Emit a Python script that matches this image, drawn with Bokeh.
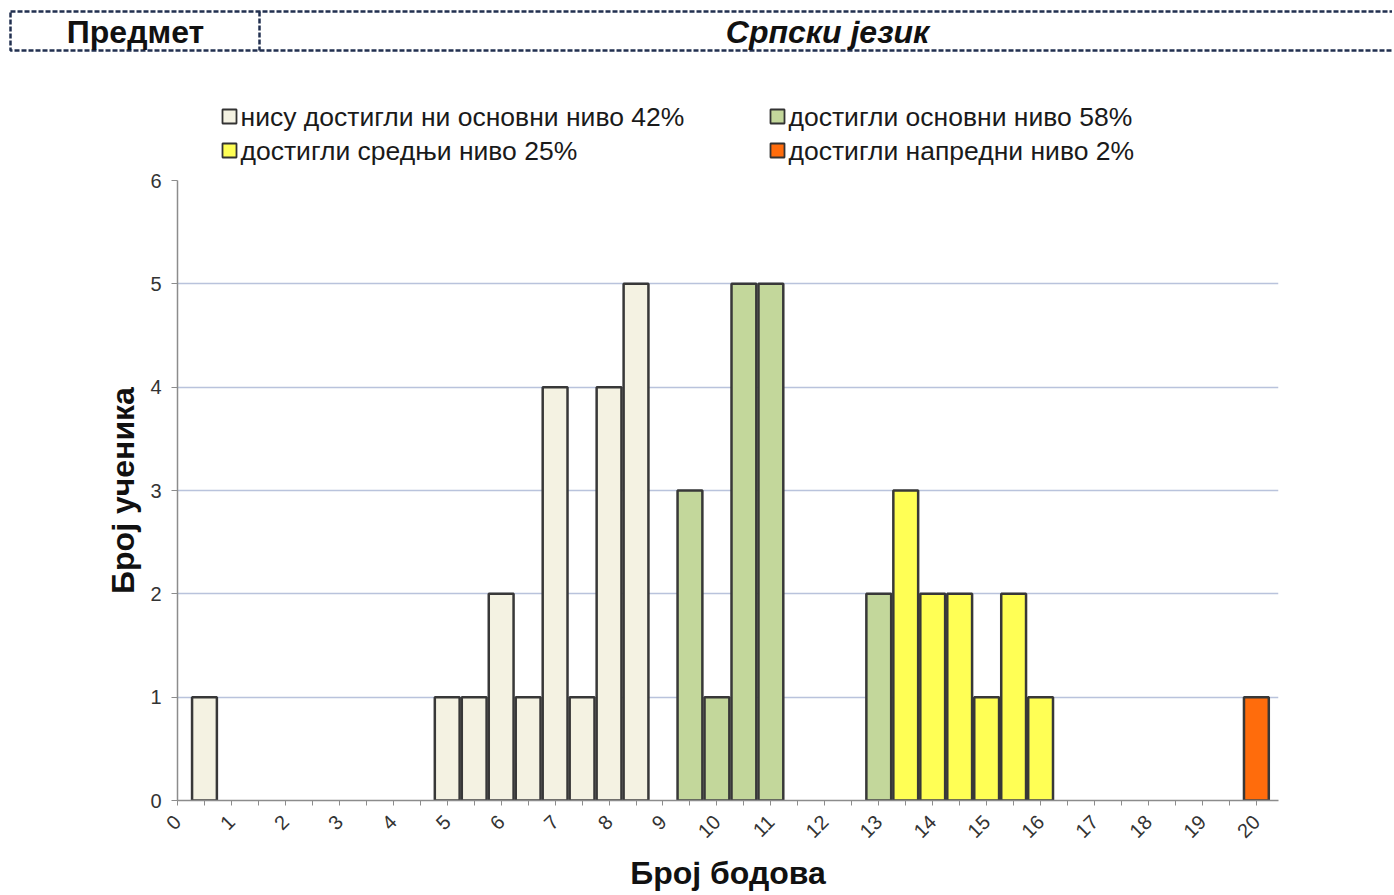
import math
from bokeh.plotting import figure
from bokeh.models import Range1d, FixedTicker, ColumnDataSource
from bokeh.layouts import column
from bokeh.embed import file_html
from bokeh.resources import INLINE
from bokeh.core.properties import value

# ---------------- data ----------------
header_left = "Предмет"
header_right = "Српски језик"
x_title = "Број бодова"
y_title = "Број ученика"

level_labels = [
    "нису достигли ни основни ниво 42%",
    "достигли основни ниво 58%",
    "достигли средњи ниво 25%",
    "достигли напредни ниво 2%",
]
level_colors = ["#f4f2e2", "#c3d79b", "#ffff55", "#ff6c0c"]

not_basic_x = [0.5, 5, 5.5, 6, 6.5, 7, 7.5, 8, 8.5]
not_basic_y = [1, 1, 1, 2, 1, 4, 1, 4, 5]
basic_x = [9.5, 10, 10.5, 11, 13]
basic_y = [3, 1, 5, 5, 2]
middle_x = [13.5, 14, 14.5, 15, 15.5, 16]
middle_y = [3, 2, 2, 1, 2, 1]
advanced_x = [20]
advanced_y = [1]

x_ticks = list(range(0, 21))
y_ticks = list(range(0, 7))

FONT = "Liberation Sans"
W = 1392
HH = 168
MH = 894 - HH

# ---------------- header (title box + legend) ----------------
h = figure(width=W, height=HH, output_backend="svg", toolbar_location=None,
           x_range=Range1d(0, W), y_range=Range1d(HH, 0),
           min_border=0, outline_line_color=None)
h.frame_align = False
h.axis.visible = False
h.grid.visible = False

h.quad(left=[10], right=[W + 10], top=[11], bottom=[50], fill_alpha=0,
       line_color="#223050", line_width=2.5, line_dash="5 2")
h.segment(x0=[259], y0=[11], x1=[259], y1=[50], line_color="#223050",
          line_width=2.5, line_dash="5 2")
h.text(x=[135], y=[31], text=[header_left], text_align="center",
       text_baseline="middle", text_font=value(FONT), text_font_size="32px",
       text_font_style="bold", text_color="#111111")
h.text(x=[827], y=[31], text=[header_right], text_align="center",
       text_baseline="middle", text_font=value(FONT), text_font_size="32px",
       text_font_style="bold italic", text_color="#111111")

leg_x = [229, 777, 229, 777]
leg_y = [116, 116, 150, 150]
h.rect(x=leg_x, y=leg_y, width=14, height=14,
       fill_color=level_colors, line_color="#333333", line_width=1.8)
h.text(x=[x + 11 for x in leg_x], y=[y for y in leg_y], text=level_labels,
       text_align="left", text_baseline="middle", text_font=value(FONT),
       text_font_size="26.5px", text_color="#1a1a1a")

# ---------------- main chart ----------------
p = figure(width=W, height=MH, output_backend="svg", toolbar_location=None,
           x_range=Range1d(0, 20.41), y_range=Range1d(0, 6),
           min_border_left=177, min_border_right=W - 1278,
           min_border_top=180 - HH, min_border_bottom=894 - 802,
           outline_line_color=None)
p.frame_align = False

groups = [
    (not_basic_x, not_basic_y, level_colors[0]),
    (basic_x, basic_y, level_colors[1]),
    (middle_x, middle_y, level_colors[2]),
    (advanced_x, advanced_y, level_colors[3]),
]
for xs, ys, col in groups:
    src = ColumnDataSource(dict(x=xs, top=ys))
    p.vbar(x="x", top="top", bottom=0, width=0.46, source=src,
           fill_color=col, line_color="#383838", line_width=2.5)

p.xgrid.visible = False
p.ygrid.grid_line_color = "#b9c3dc"
p.ygrid.grid_line_width = 1.5
p.ygrid.ticker = FixedTicker(ticks=y_ticks)

xa = p.xaxis[0]
xa.ticker = FixedTicker(ticks=x_ticks, minor_ticks=[t + 0.5 for t in x_ticks])
xa.major_label_orientation = math.pi / 4
xa.major_label_text_font = FONT
xa.major_label_text_font_size = "20px"
xa.major_label_text_color = "#333333"
xa.major_label_standoff = 13
xa.major_tick_out = 5
xa.major_tick_in = 0
xa.minor_tick_out = 5
xa.minor_tick_in = 0
xa.axis_line_color = "#8c8c8c"
xa.axis_line_width = 1.5
xa.major_tick_line_color = "#8c8c8c"
xa.minor_tick_line_color = "#8c8c8c"
xa.axis_label = x_title
xa.axis_label_text_font = FONT
xa.axis_label_text_font_size = "32px"
xa.axis_label_text_font_style = "bold"
xa.axis_label_text_color = "#111111"
xa.axis_label_standoff = 8

ya = p.yaxis[0]
ya.ticker = FixedTicker(ticks=y_ticks)
ya.major_label_text_font = FONT
ya.major_label_text_font_size = "20px"
ya.major_label_text_color = "#333333"
ya.major_tick_out = 6
ya.major_tick_in = 0
ya.minor_tick_out = 0
ya.minor_tick_in = 0
ya.major_label_standoff = 10
ya.axis_line_color = "#8c8c8c"
ya.axis_line_width = 1.5
ya.major_tick_line_color = "#8c8c8c"
ya.axis_label = y_title
ya.axis_label_text_font = FONT
ya.axis_label_text_font_size = "32px"
ya.axis_label_text_font_style = "bold"
ya.axis_label_text_color = "#111111"
ya.axis_label_standoff = 6

layout = column(h, p, spacing=0)
open("out.html", "w").write(file_html(layout, INLINE))
